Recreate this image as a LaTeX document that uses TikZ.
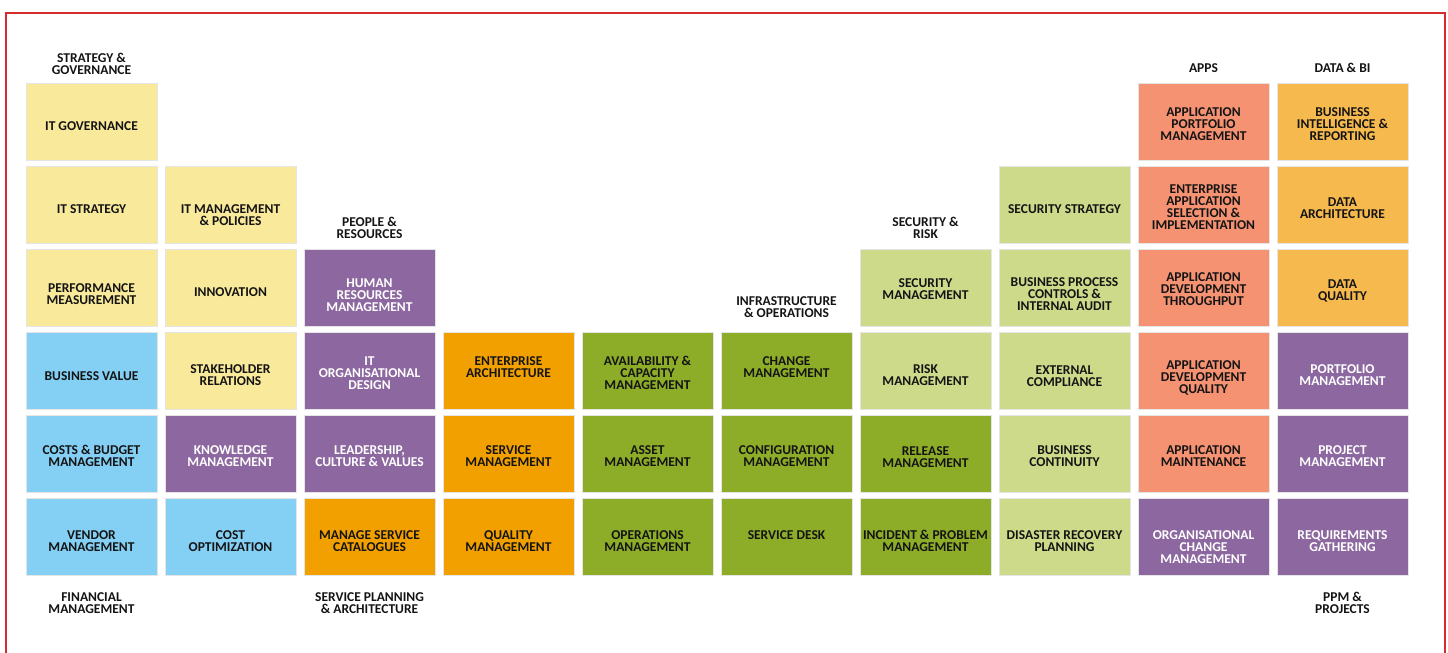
\documentclass[tikz,border=0pt]{standalone}
\usepackage{fontspec}
\setmainfont{Carlito}
\usetikzlibrary{positioning}
\definecolor{cyellow}{HTML}{F9E99A}
\definecolor{cblue}{HTML}{84CFF4}
\definecolor{cpurple}{HTML}{8D68A0}
\definecolor{corange}{HTML}{F1A000}
\definecolor{cdgreen}{HTML}{8DAC28}
\definecolor{clgreen}{HTML}{CDDA8A}
\definecolor{csalmon}{HTML}{F49272}
\definecolor{cgold}{HTML}{F6B94E}
\definecolor{cframe}{HTML}{D42B2F}
\definecolor{ctext}{HTML}{141414}
\def\tshift{0pt}
\def\nlines{2}

\begin{document}
\begin{tikzpicture}[x=1pt,y=-1pt,node distance=6pt and 8pt,
    tshift/.code={\def\tshift{#1}},
    nl/.code={\def\nlines{#1}},
    box/.style={draw=black!10,line width=0.6pt,outer sep=0pt,minimum width=131pt,
                minimum height=77pt,inner sep=1pt,align=center,text=ctext,
                font=\fontsize{13.5}{12}\selectfont\bfseries,tshift=4pt,nl=2,
                % push the text down (or up) inside the box
                execute at begin node={\ifdim\tshift>0pt
                  \rule{0pt}{\dimexpr8.6pt+12pt*\nlines-12pt+\tshift*2\relax}\fi},
                execute at end node={\ifdim\tshift<0pt
                  \rule[\dimexpr\tshift*2\relax]{0pt}{\dimexpr-\tshift*2\relax}\fi}},
    wbox/.style={box,text=white},
    hdr/.style={inner sep=0pt,align=center,text=ctext,
                font=\fontsize{13.5}{12}\selectfont\bfseries}]
  \useasboundingbox (0,0) rectangle (1448,653);
  \draw[cframe,line width=2pt] (6,660) -- (6,13) -- (1445,13) -- (1445,660);

  % strategy & governance / financial management
  \node[box,fill=cyellow,nl=1,tshift=5pt]  (gov)    at (91.5,121.5) {IT GOVERNANCE};
  \node[box,fill=cyellow,nl=1,tshift=5pt]  (strat)  [below=of gov]   {IT STRATEGY};
  \node[box,fill=cyellow,tshift=7pt]       (perf)   [below=of strat] {PERFORMANCE\\MEASUREMENT};
  \node[box,fill=cblue,nl=1,tshift=6pt]    (bval)   [below=of perf]  {BUSINESS VALUE};
  \node[box,fill=cblue,tshift=3pt]         (budget) [below=of bval]  {COSTS \& BUDGET\\MANAGEMENT};
  \node[box,fill=cblue,tshift=5pt]         (vendor) [below=of budget]{VENDOR\\MANAGEMENT};

  \node[box,fill=cyellow,tshift=11pt]      (itmgmt) [right=of strat]  {IT MANAGEMENT\\\& POLICIES};
  \node[box,fill=cyellow,nl=1,tshift=5pt]  (innov)  [right=of perf]   {INNOVATION};
  \node[box,fill=cyellow,tshift=5pt]       (stake)  [right=of bval]   {STAKEHOLDER\\RELATIONS};
  \node[wbox,fill=cpurple,tshift=3pt]      (know)   [right=of budget] {KNOWLEDGE\\MANAGEMENT};
  \node[box,fill=cblue,tshift=5pt]         (costopt)[right=of vendor] {COST\\OPTIMIZATION};

  % people & resources / service planning
  \node[wbox,fill=cpurple,nl=3,tshift=8pt] (hr)     [right=of innov]  {HUMAN\\RESOURCES\\MANAGEMENT};
  \node[wbox,fill=cpurple,nl=3,tshift=3pt] (orgdes) [right=of stake]  {IT\\ORGANISATIONAL\\DESIGN};
  \node[wbox,fill=cpurple,tshift=3pt]      (lead)   [right=of know]   {LEADERSHIP,\\CULTURE \& VALUES};
  \node[box,fill=corange,tshift=5pt]       (catal)  [right=of costopt]{MANAGE SERVICE\\CATALOGUES};

  \node[box,fill=corange,tshift=-3pt]      (ea)     [right=of orgdes] {ENTERPRISE\\ARCHITECTURE};
  \node[box,fill=corange,tshift=3pt]       (svcmgmt)[right=of lead]   {SERVICE\\MANAGEMENT};
  \node[box,fill=corange,tshift=5pt]       (qual)   [right=of catal]  {QUALITY\\MANAGEMENT};

  % infrastructure & operations
  \node[box,fill=cdgreen,nl=3,tshift=3pt]  (avail)  [right=of ea]     {AVAILABILITY \&\\CAPACITY\\MANAGEMENT};
  \node[box,fill=cdgreen,tshift=3pt]       (asset)  [right=of svcmgmt]{ASSET\\MANAGEMENT};
  \node[box,fill=cdgreen,tshift=5pt]       (ops)    [right=of qual]   {OPERATIONS\\MANAGEMENT};

  \node[box,fill=cdgreen,tshift=-3pt]      (change) [right=of avail]  {CHANGE\\MANAGEMENT};
  \node[box,fill=cdgreen,tshift=3pt]       (config) [right=of asset]  {CONFIGURATION\\MANAGEMENT};
  \node[box,fill=cdgreen,tshift=-1pt]      (desk)   [right=of ops]    {SERVICE DESK};

  % security & risk
  \node[box,fill=clgreen,tshift=5pt]       (risk)   [right=of change] {RISK\\MANAGEMENT};
  \node[box,fill=clgreen,tshift=2pt]       (secmgmt)[above=of risk]   {SECURITY\\MANAGEMENT};
  \node[box,fill=cdgreen,tshift=4pt]       (release)[right=of config] {RELEASE\\MANAGEMENT};
  \node[box,fill=cdgreen,tshift=5pt]       (incid)  [right=of desk]   {INCIDENT \& PROBLEM\\MANAGEMENT};

  \node[box,fill=clgreen,tshift=6pt]       (extcomp)[right=of risk]   {EXTERNAL\\COMPLIANCE};
  \node[box,fill=clgreen,nl=3,tshift=7pt]  (bpc)    [right=of secmgmt]{BUSINESS PROCESS\\CONTROLS \&\\INTERNAL AUDIT};
  \node[box,fill=clgreen,nl=1,tshift=5pt]  (secstr) [above=of bpc]    {SECURITY STRATEGY};
  \node[box,fill=clgreen,tshift=3pt]       (bcont)  [right=of release]{BUSINESS\\CONTINUITY};
  \node[box,fill=clgreen,tshift=5pt]       (drp)    [right=of incid]  {DISASTER RECOVERY\\PLANNING};

  % apps
  \node[box,fill=csalmon,nl=3,tshift=8pt]  (appqual)[right=of extcomp]{APPLICATION\\DEVELOPMENT\\QUALITY};
  \node[box,fill=csalmon,nl=3,tshift=2pt]  (appthru)[right=of bpc]    {APPLICATION\\DEVELOPMENT\\THROUGHPUT};
  \node[box,fill=csalmon,nl=4,tshift=3pt]  (entapp) [right=of secstr] {ENTERPRISE\\APPLICATION\\SELECTION \&\\IMPLEMENTATION};
  \node[box,fill=csalmon,nl=3,tshift=3pt]  (appport)[above=of entapp] {APPLICATION\\PORTFOLIO\\MANAGEMENT};
  \node[box,fill=csalmon,tshift=3pt]       (appmnt) [right=of bcont]  {APPLICATION\\MAINTENANCE};
  \node[wbox,fill=cpurple,nl=3,tshift=11pt](ocm)    [right=of drp]    {ORGANISATIONAL\\CHANGE\\MANAGEMENT};

  % data & bi / ppm
  \node[wbox,fill=cpurple,tshift=5pt]      (portf)  [right=of appqual]{PORTFOLIO\\MANAGEMENT};
  \node[box,fill=cgold,tshift=4pt]         (dataq)  [right=of appthru]{DATA\\QUALITY};
  \node[box,fill=cgold,tshift=4pt]         (dataarc)[right=of entapp] {DATA\\ARCHITECTURE};
  \node[box,fill=cgold,nl=3,tshift=3pt]    (bi)     [right=of appport]{BUSINESS\\INTELLIGENCE \&\\REPORTING};
  \node[wbox,fill=cpurple,tshift=3pt]      (projm)  [right=of appmnt] {PROJECT\\MANAGEMENT};
  \node[wbox,fill=cpurple,tshift=5pt]      (reqs)   [right=of ocm]    {REQUIREMENTS\\GATHERING};

  % group titles
  \node[hdr] (hstrat) [above=8pt of gov]     {STRATEGY \&\\GOVERNANCE};
  \node[hdr] (hpeop)  [above=10pt of hr]     {PEOPLE \&\\RESOURCES};
  \node[hdr] (hinfra) [above=14pt of change] {INFRASTRUCTURE\\\& OPERATIONS};
  \node[hdr] (hsec)   [above=10pt of secmgmt]{SECURITY \&\\RISK};
  \node[hdr] (happs)  [above=10pt of appport]{APPS};
  \node[hdr] (hdata)  [above=10pt of bi]     {DATA \& BI};
  \node[hdr] (hfin)   [below=17pt of vendor] {FINANCIAL\\MANAGEMENT};
  \node[hdr] (hsvc)   [below=17pt of catal]  {SERVICE PLANNING\\\& ARCHITECTURE};
  \node[hdr] (hppm)   [below=17pt of reqs]   {PPM \&\\PROJECTS};
\end{tikzpicture}
\end{document}
